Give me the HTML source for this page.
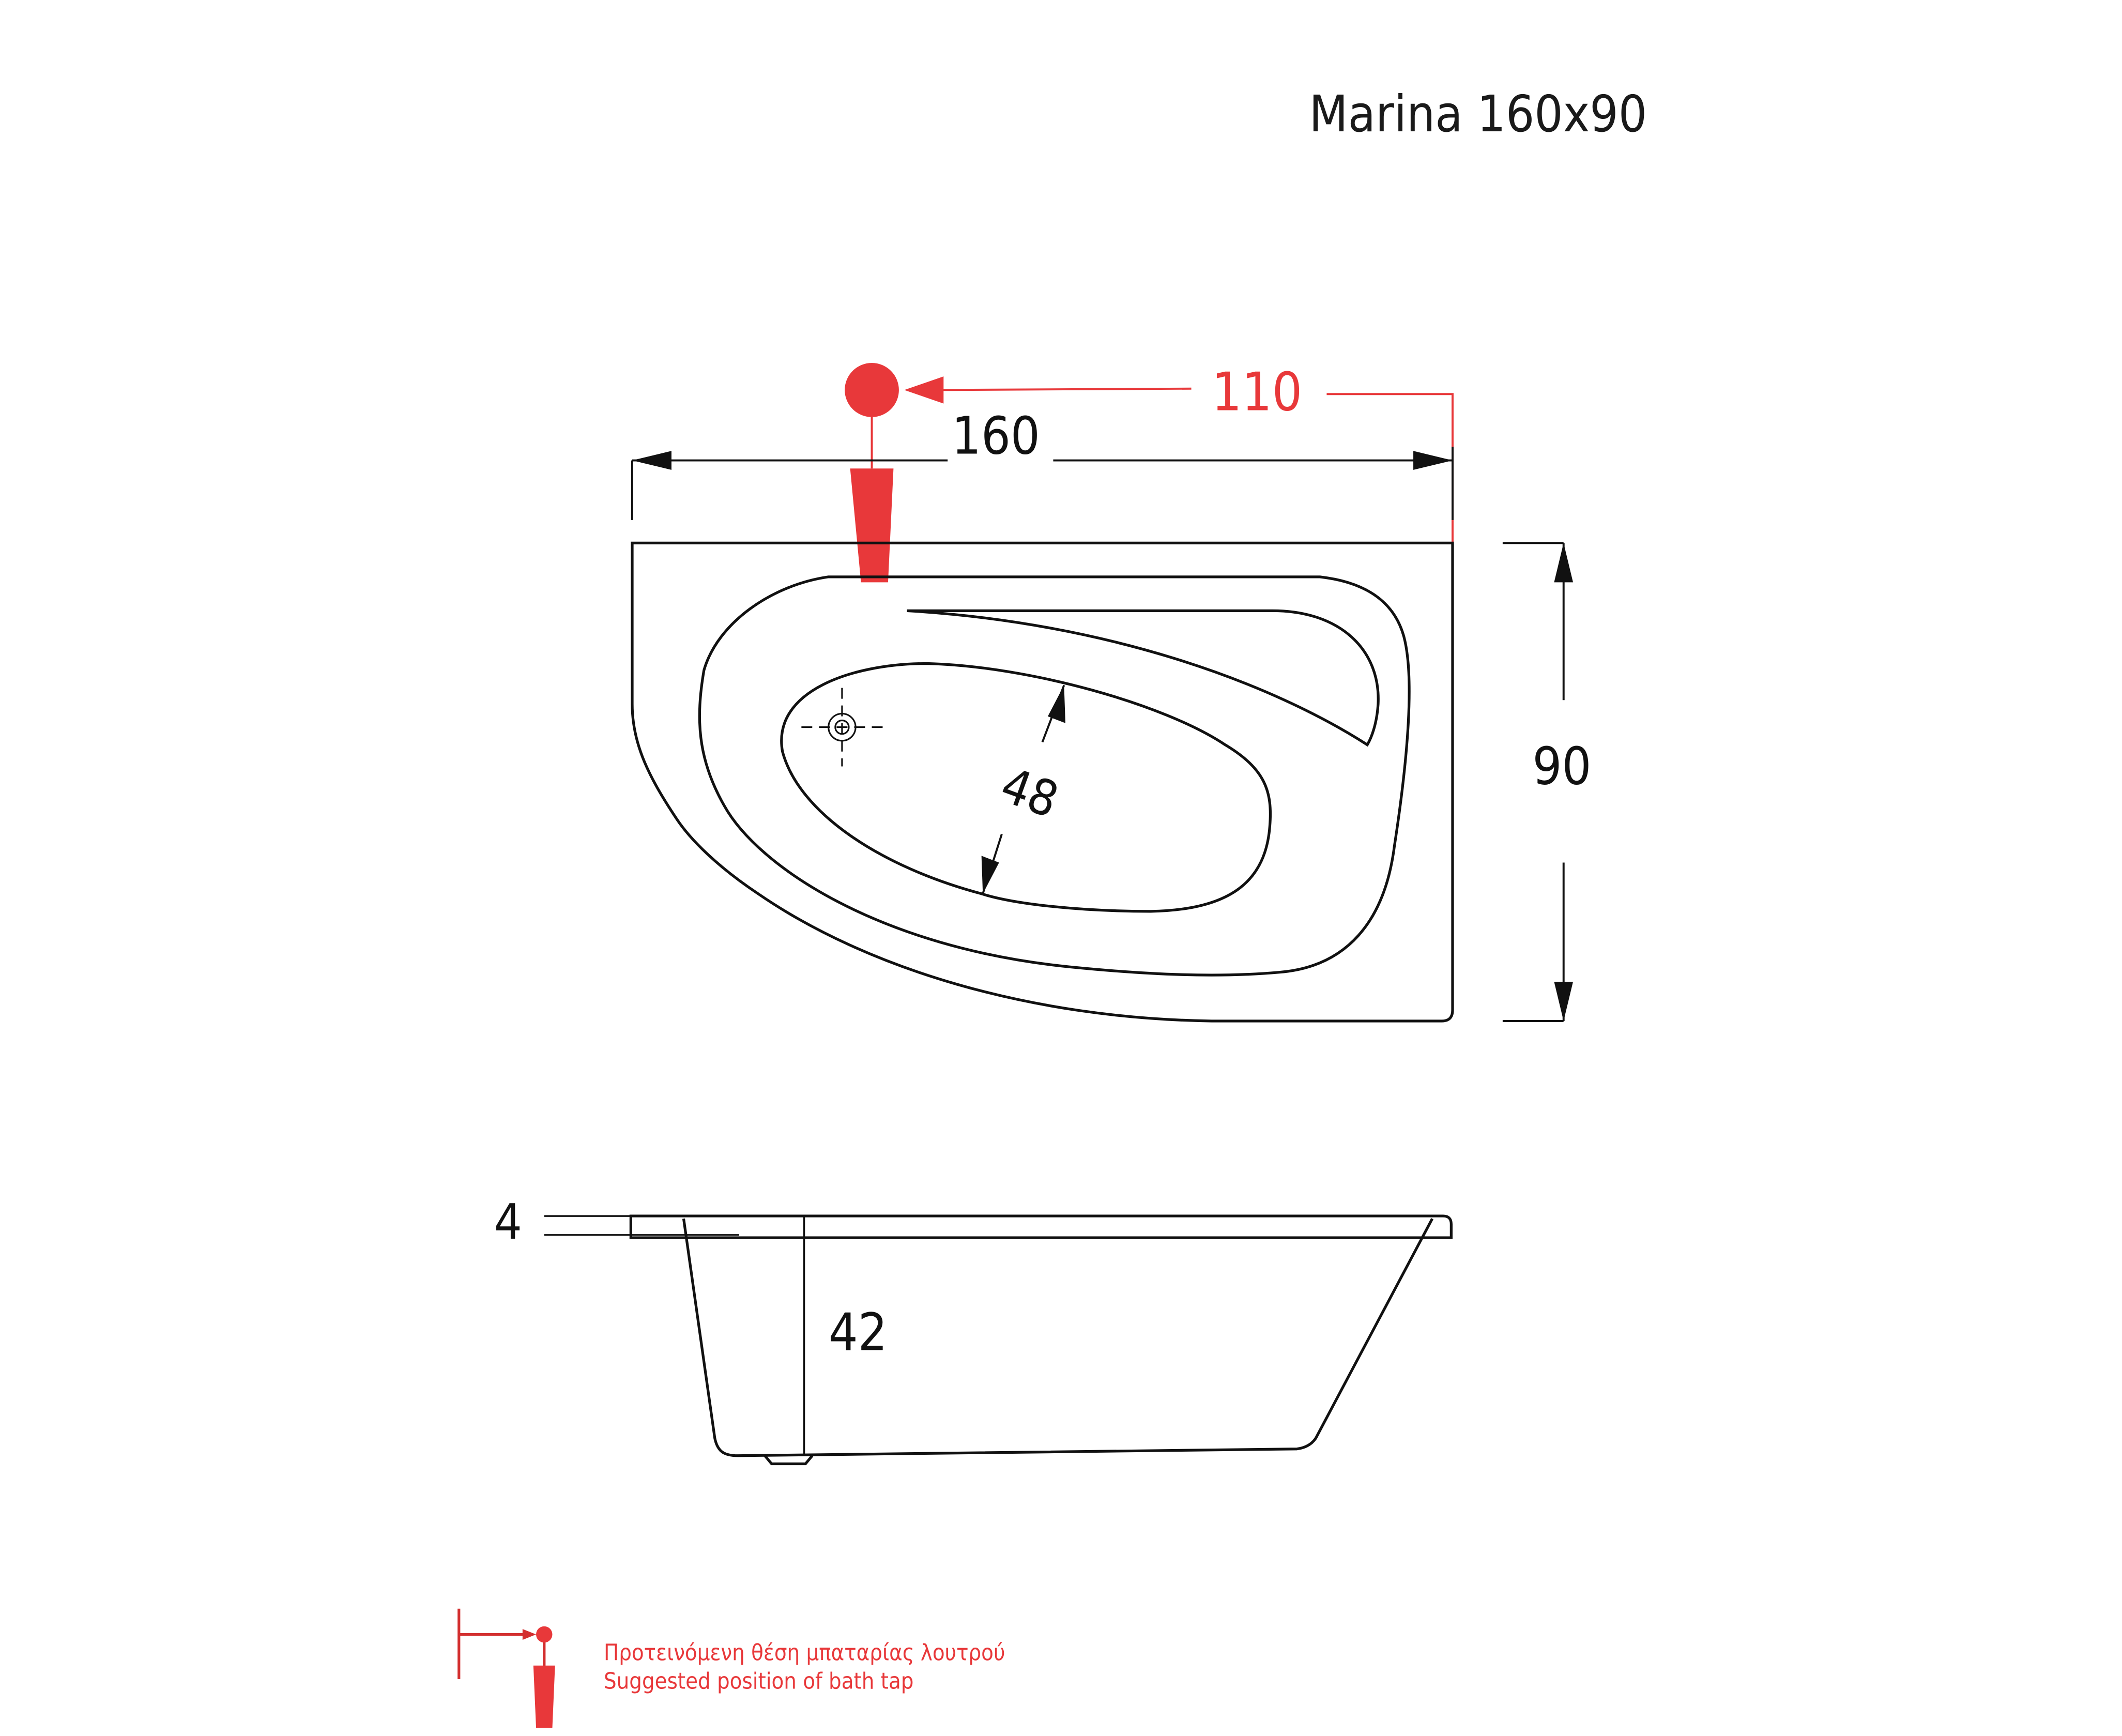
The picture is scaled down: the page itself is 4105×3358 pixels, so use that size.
<!DOCTYPE html>
<html><head><meta charset="utf-8"><style>html,body{margin:0;padding:0;background:#fff}svg{display:block}</style></head>
<body>
<svg xmlns="http://www.w3.org/2000/svg" width="4105" height="3358" viewBox="0 0 1567.5 1282" preserveAspectRatio="none" font-family="'DejaVu Sans Condensed','DejaVu Sans','Liberation Sans',sans-serif">
<rect width="1567.5" height="1282" fill="#fff"/>
<text x="967" y="97" font-size="37" fill="#1a1a1a">Marina 160x90</text>

<!-- red tap position -->
<circle cx="644" cy="288" r="20" fill="#e8383a"/>
<line x1="690" y1="288" x2="880" y2="287" stroke="#e8383a" stroke-width="1.5"/>
<path d="M668,288 L697,278 L697,298 Z" fill="#e8383a"/>
<text x="895" y="303" font-size="39" fill="#e8383a">110</text>
<polyline points="980,291 1073,291 1073,405" fill="none" stroke="#e8383a" stroke-width="1.5"/>
<line x1="644" y1="308" x2="644" y2="346" stroke="#e8383a" stroke-width="1.5"/>
<path d="M628,346 L660,346 L656,430 L636,430 Z" fill="#e8383a"/>

<!-- 160 dim -->
<g stroke="#111" stroke-width="1.5" fill="none">
<line x1="467" y1="340" x2="700" y2="340"/>
<line x1="778" y1="340" x2="1073" y2="340"/>
<line x1="467" y1="340" x2="467" y2="384"/>
<line x1="1073" y1="330" x2="1073" y2="384"/>
</g>
<path d="M467,340 L496,333 L496,347 Z" fill="#111"/>
<path d="M1073,340 L1044,333 L1044,347 Z" fill="#111"/>
<text x="703" y="335" font-size="38" fill="#111">160</text>

<!-- plan view -->
<g stroke="#111" stroke-width="2" fill="none">
<path d="M467,401 L1073,401 L1073,746 Q1073,754 1065,754 L895,754 C760,752 640,715 560,660 C530,640 510,620 500,605 C480,575 467,550 467,520 Z"/>
<path d="M612,426 L975,426 C1010,430 1030,445 1037,470 C1045,500 1040,560 1030,625 C1023,680 995,714 945,718 C900,722 850,720 790,714 C650,700 560,640 535,595 C515,560 514,530 520,495 C530,460 570,432 612,426 Z"/>
<path d="M670,451 L940,451 C990,451 1020,480 1018,520 C1017,535 1013,545 1010,550 C940,505 820,460 670,451 Z"/>
<path d="M685,490 C760,492 860,520 905,550 C935,568 940,585 938,610 C935,650 910,672 850,673 C800,673 750,668 725,660 C650,640 590,600 578,555 C570,510 630,490 685,490 Z"/>
</g>
<g stroke="#111" stroke-width="1.2" fill="none">
<circle cx="622" cy="537" r="10"/><circle cx="622" cy="537" r="5"/>
<line x1="592" y1="537" x2="652" y2="537" stroke-dasharray="8,5"/>
<line x1="622" y1="508" x2="622" y2="566" stroke-dasharray="8,5"/>
</g>
<!-- 48 dim -->
<g stroke="#111" stroke-width="1.5">
<line x1="786" y1="506" x2="770" y2="548"/>
<line x1="740" y1="616" x2="726" y2="660"/>
</g>
<path d="M786,506 L787,534 L774,529 Z" fill="#111"/>
<path d="M726,660 L725,632 L738,637 Z" fill="#111"/>
<text x="0" y="0" font-size="36" fill="#111" transform="translate(737,590) rotate(20)">48</text>

<!-- 90 dim -->
<g stroke="#111" stroke-width="1.5">
<line x1="1110" y1="401" x2="1155" y2="401"/>
<line x1="1110" y1="754" x2="1155" y2="754"/>
<line x1="1155" y1="401" x2="1155" y2="517"/>
<line x1="1155" y1="637" x2="1155" y2="754"/>
</g>
<path d="M1155,401 L1148,430 L1162,430 Z" fill="#111"/>
<path d="M1155,754 L1148,725 L1162,725 Z" fill="#111"/>
<text x="1132" y="579" font-size="38" fill="#111">90</text>

<!-- side view -->
<g stroke="#111" stroke-width="2" fill="none">
<path d="M466,898 L1066,898 Q1072,898 1072,904 L1072,914 L466,914 Z"/>
<path d="M505,900 L528,1062 C530,1072 535,1075 545,1075 L958,1070 C966,1069 970,1065 972,1062 L1058,900"/>
<path d="M565,1075 L570,1081 L595,1081 L600,1075"/>
</g>
<g stroke="#111" stroke-width="1.3">
<line x1="594" y1="898" x2="594" y2="1075"/>
<line x1="402" y1="898" x2="466" y2="898"/>
<line x1="402" y1="912" x2="546" y2="912"/>
</g>
<text x="365" y="915" font-size="36" fill="#111">4</text>
<text x="612" y="997" font-size="38" fill="#111">42</text>

<!-- legend -->
<g stroke="#d32f2f" stroke-width="2">
<line x1="339" y1="1188" x2="339" y2="1240"/>
<line x1="339" y1="1207" x2="390" y2="1207"/>
<line x1="402" y1="1207" x2="402" y2="1232"/>
</g>
<path d="M396,1207 L386,1203 L386,1211 Z" fill="#d32f2f"/>
<circle cx="402" cy="1207" r="6" fill="#e8383a"/>
<path d="M394,1230 L410,1230 L408,1276 L396,1276 Z" fill="#e8383a"/>
<text x="446" y="1226" font-size="16.5" fill="#e8383a">Προτεινόμενη θέση μπαταρίας λουτρού</text>
<text x="446" y="1247" font-size="16.5" fill="#e8383a">Suggested position of bath tap</text>
</svg>
</body></html>
